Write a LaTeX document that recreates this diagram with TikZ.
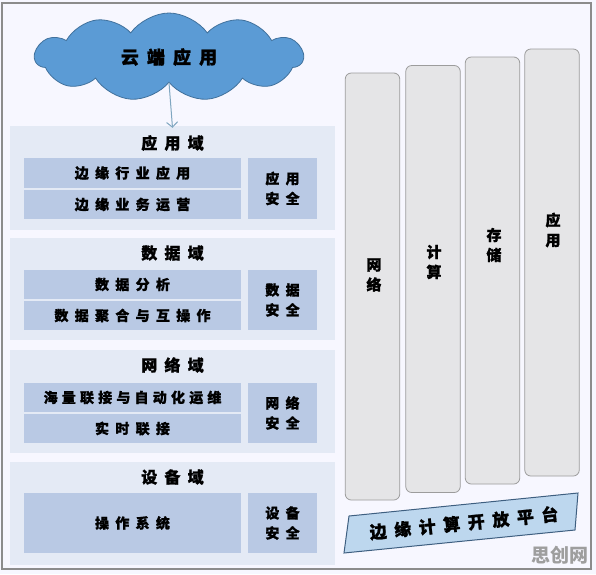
\documentclass[tikz,border=0pt]{standalone}
\usepackage{fontspec}
\newfontfamily\cjk[LetterSpace=45, BoldFeatures={FakeBold=1.2}]{Noto Sans CJK SC}
\newfontfamily\wmfont{Noto Sans CJK SC}
\usetikzlibrary{shapes.symbols,arrows.meta}
\definecolor{panelbg}{HTML}{E4EAF5}
\definecolor{boxbg}{HTML}{B9C9E4}
\definecolor{cloudfill}{HTML}{5B9BD5}
\definecolor{cloudline}{HTML}{41719C}
\definecolor{pillarfill}{HTML}{E5E5E7}
\definecolor{pillarline}{HTML}{9C9C9C}
\definecolor{platfill}{HTML}{BDD7EE}
\definecolor{platline}{HTML}{3E5F80}
\definecolor{arrowcol}{HTML}{7FA6C0}
\definecolor{framecol}{HTML}{8C8C8C}
\begin{document}
\begin{tikzpicture}[x=1pt,y=-1pt,
  panel/.style={fill=panelbg, draw=none, inner sep=0, minimum width=325pt},
  itembox/.style={fill=boxbg, draw=none, inner sep=0, minimum width=217pt, minimum height=29.5pt,
     font=\cjk\bfseries\fontsize{14}{14}\selectfont},
  secbox/.style={fill=boxbg, draw=none, inner sep=0, minimum width=69pt, minimum height=60pt, align=center,
     font=\cjk\bfseries\fontsize{14}{20}\selectfont},
  title/.style={font=\cjk\bfseries\fontsize{16}{16}\selectfont, inner sep=0},
  pillar/.style={fill=pillarfill, draw=pillarline, line width=0.8pt, rounded corners=6pt, inner sep=0,
     minimum width=54.5pt, minimum height=427pt},
  ptext/.style={font=\cjk\bfseries\fontsize{15}{20}\selectfont, align=center, inner sep=0},
  arr/.style={draw=arrowcol, line width=1pt, -{Straight Barb[length=5pt,width=11pt]}}
]
\fill[white!97!blue] (0,0) rectangle (596,574);
\draw[framecol, line width=1.5pt] (2,3) rectangle (591,569);

% cloud
\node[cloud, cloud puffs=11, cloud puff arc=110, aspect=3.1, minimum width=268pt, minimum height=88pt,
  fill=cloudfill, draw=cloudline, line width=0.8pt, inner sep=0,
  font=\cjk\bfseries\fontsize{18}{18}\selectfont] (cloud) at (169,57) {云端应用};

% panels
\node[panel, minimum height=104pt] (p1) at (172.5,178) {};
\node[panel, minimum height=102pt] (p2) at (172.5,289) {};
\node[panel, minimum height=103pt] (p3) at (172.5,401.5) {};
\node[panel, minimum height=103pt] (p4) at (172.5,513.5) {};

\draw[arr] (cloud.south) -- ([yshift=-2pt]p1.north);

\node[title] (t1) at (172.5,143) {应用域};
\node[title] (t2) at (172.5,253) {数据域};
\node[title] (t3) at (172.5,365) {网络域};
\node[title] (t4) at (172.5,477) {设备域};

\node[itembox] (a1) at (132.5,173) {边缘行业应用};
\node[itembox] (a2) at (132.5,204.5) {边缘业务运营};
\node[secbox, minimum height=61pt] (as) at (282.5,188.5) {应用\\安全};

\node[itembox] (b1) at (132.5,284.5) {数据分析};
\node[itembox] (b2) at (132.5,315.5) {数据聚合与互操作};
\node[secbox] (bs) at (282.5,300) {数据\\安全};

\node[itembox] (c1) at (132.5,397.5) {\addfontfeatures{LetterSpace=30}海量联接与自动化运维};
\node[itembox] (c2) at (132.5,428.5) {实时联接};
\node[secbox] (cs) at (282.5,413) {网络\\安全};

\node[itembox, minimum height=60pt] (d1) at (132.5,523) {操作系统};
\node[secbox] (ds) at (282.5,523) {设备\\安全};

% pillars
\node[pillar] (q1) at (372.5,286.5) {};
\node[pillar] (q2) at (433,279) {};
\node[pillar] (q3) at (492.5,270.5) {};
\node[pillar] (q4) at (552,262.5) {};
\node[ptext] (q1t) at (374,275) {网\\络};
\node[ptext] (q2t) at (434,262) {计\\算};
\node[ptext] (q3t) at (494,245) {存\\储};
\node[ptext] (q4t) at (553,230) {应\\用};

% platform
\draw[fill=platfill, draw=platline, line width=1pt] (344,553) -- (349,516) -- (578,493) -- (575,530) -- cycle;
\node[rotate=5.7, inner sep=0, font=\cjk\bfseries\fontsize{17}{17}\selectfont] (plat) at (464,523) {边缘计算开放平台};

% watermark
\node[inner sep=0, text=black!38, font=\wmfont\bfseries\fontsize{19}{19}\selectfont] (wm) at (560,555) {思创网};
\end{tikzpicture}
\end{document}
